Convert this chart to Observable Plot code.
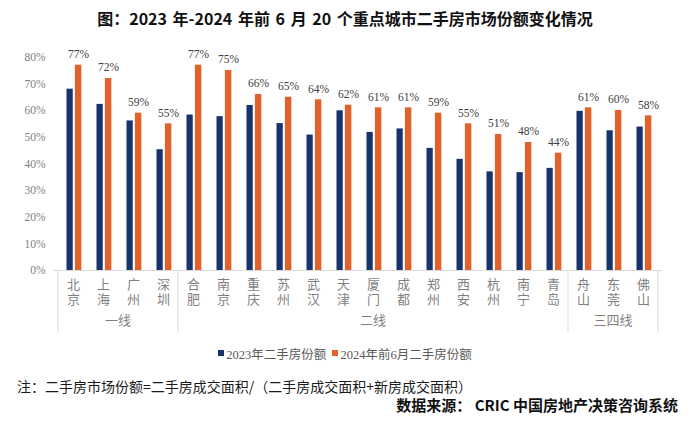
<!DOCTYPE html>
<html>
<head>
<meta charset="utf-8">
<script src="https://cdn.jsdelivr.net/npm/d3@7"></script>
<script src="https://cdn.jsdelivr.net/npm/@observablehq/plot@0.6"></script>
<style>
  body { margin:0; background:#fff; width:690px; height:428px; position:relative; overflow:hidden; font-family:"Noto Sans CJK SC", sans-serif; }
  #title { position:absolute; top:0; left:0; width:690px; height:36px; line-height:36px; text-align:center; font-weight:bold; font-size:16px; color:#111; word-spacing:2px; }
  #chart { position:absolute; top:36px; left:0; }
  #legend { position:absolute; top:343px; left:0; width:690px; height:20px; display:flex; justify-content:center; align-items:center; font-size:12.5px; color:#595959; font-family:"Liberation Serif","Noto Sans CJK SC",serif; }
  #legend .item { display:flex; align-items:center; margin:0 3px; }
  #legend .sw { width:6px; height:6px; margin-right:2px; }
  #note { position:absolute; top:375px; left:17px; font-size:14px; line-height:22px; color:#1a1a1a; white-space:nowrap; }
  #source { position:absolute; top:394px; right:12px; font-size:15px; line-height:22px; font-weight:bold; color:#111; white-space:nowrap; }
</style>
</head>
<body>
<div id="title">图：2023 年-2024 年前 6 月 20 个重点城市二手房市场份额变化情况</div>
<div id="chart"></div>
<div id="legend"></div>
<div id="note">注：二手房市场份额=二手房成交面积/（二手房成交面积+新房成交面积）</div>
<div id="source">数据来源： CRIC 中国房地产决策咨询系统</div>
<script>
const cities = ["北京","上海","广州","深圳","合肥","南京","重庆","苏州","武汉","天津","厦门","成都","郑州","西安","杭州","南宁","青岛","舟山","东莞","佛山"];
const share2023 = [68.0,62.3,56.1,45.3,58.3,57.7,61.9,55.1,50.8,59.9,51.8,53.1,45.8,41.7,37.0,36.7,38.3,59.7,52.4,53.8];
const share2024H1 = [77,72,59,55,77,75,66,65,64,62,61,61,59,55,51,48,44,61,60,58];
const tierNames = ["一线","二线","三四线"];
const tierCounts = [4,13,3];
const yTicks = [0,10,20,30,40,50,60,70,80];
const seriesNames = ["2023年二手房份额","2024年前6月二手房份额"];
const colors = ["#17336b","#e2612a"];

const rows = cities.map((c, i) => ({city: c, v23: share2023[i], v24: share2024H1[i]}));
const serif = "'Liberation Serif', 'Noto Sans CJK SC', serif";

const plot = Plot.plot({
  width: 690, height: 300,
  marginLeft: 53, marginRight: 28, marginTop: 20.7, marginBottom: 66,
  x: {type: "band", domain: cities, padding: 0},
  y: {domain: [0, 80]},
  style: {background: "#fff", overflow: "visible", fontFamily: serif},
  marks: [
    Plot.barY(rows, {x: "city", y: "v23", fill: colors[0], insetLeft: 8.5, insetRight: 15.25}),
    Plot.barY(rows, {x: "city", y: "v24", fill: colors[1], insetLeft: 16.9, insetRight: 6.65}),
    Plot.text(rows, {x: "city", y: "v24", text: d => d.v24 + "%", dx: 5, dy: -11, fontFamily: serif, fontSize: 11.5, fill: "#404040"}),
    Plot.ruleY([0], {stroke: "#d9d9d9"}),
    Plot.axisY({ticks: yTicks, tickFormat: d => d + "%", tickSize: 0, tickPadding: 8, fontFamily: serif, fontSize: 11.5, fill: "#7f7f7f", label: null}),
    Plot.axisX({tickFormat: d => d.split("").join("\n"), tickSize: 0, tickPadding: 8, lineHeight: 1.15, fontSize: 13, fontFamily: serif, fill: "#7f7f7f", label: null})
  ]
});

// group dividers and tier labels, positioned with the plot's own scales
const xs = plot.scale("x");
const ys = plot.scale("y");
const y0 = ys.apply(0);
const svg = d3.select(plot);
const g = svg.append("g");
let start = 0;
const edges = [xs.apply(cities[0])];
const centers = [];
tierCounts.forEach((n) => {
  const left = xs.apply(cities[start]);
  const right = xs.apply(cities[start + n - 1]) + xs.bandwidth;
  edges.push(right);
  centers.push((left + right) / 2);
  start += n;
});
edges.forEach(x => {
  g.append("line").attr("x1", x).attr("x2", x).attr("y1", y0).attr("y2", y0 + 62)
    .attr("stroke", "#d9d9d9").attr("stroke-width", 1);
});
tierNames.forEach((t, k) => {
  g.append("text").attr("x", centers[k]).attr("y", y0 + 52)
    .attr("text-anchor", "middle").attr("dominant-baseline", "middle")
    .attr("font-family", serif)
    .attr("font-size", 13).attr("fill", "#7f7f7f").text(t);
});

document.getElementById("chart").appendChild(plot);

const legend = d3.select("#legend");
seriesNames.forEach((s, i) => {
  const it = legend.append("div").attr("class", "item");
  it.append("div").attr("class", "sw").style("background", colors[i]);
  it.append("span").text(s);
});
</script>
</body>
</html>
